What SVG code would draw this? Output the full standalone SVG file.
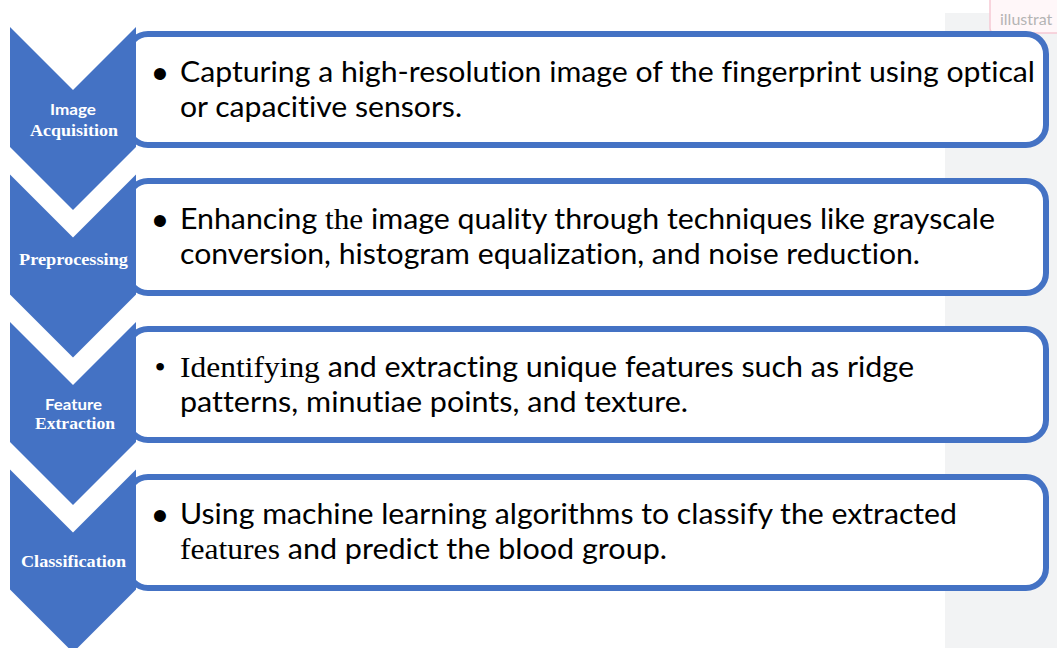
<svg xmlns="http://www.w3.org/2000/svg" width="1057" height="648" viewBox="0 0 1057 648">
<style>
.chev{fill:#4472c4}
.box{fill:#fff;stroke:#4472c4;stroke-width:6}
.lbl-s{font-family:"Liberation Serif",serif;font-weight:bold;font-size:17px;fill:#fff;text-anchor:middle}
.lbl-a{font-family:Lato,"Liberation Sans",sans-serif;font-weight:bold;font-size:16px;fill:#fff;text-anchor:middle}
.txt{font-family:Lato,"Liberation Sans",sans-serif;font-size:29px;fill:#000;font-variant-ligatures:none}
.ser{font-family:"Liberation Serif",serif;font-size:30px}
.bul{font-family:"Liberation Sans",sans-serif;font-size:44px;fill:#000;text-anchor:middle}
.bul2{font-family:"Liberation Serif",serif;font-size:32px;fill:#000;text-anchor:middle}
</style>
<rect x="0" y="0" width="1057" height="648" fill="#fff"/>
<rect x="945" y="13" width="112" height="635" fill="#f2f3f4"/>
<g id="tag">
<path d="M990,-2 V28 Q990,33 995,33 H1060 V-2 Z" fill="#fff7f9" stroke="#f6c9d3" stroke-width="1.5"/>
<text x="1000" y="25" font-family="Lato,'Liberation Sans',sans-serif" font-size="16" fill="#b4b4b4">illustrat</text>
</g>
<g id="connectors"/>
<g id="step1">
<rect class="box" x="128" y="34" width="918" height="111" rx="20"/>
<polygon class="chev" points="10,27 73,90 136,27 136,147 73,210 10,147"/>
<text class="lbl-a" x="73" y="115" textLength="46" lengthAdjust="spacingAndGlyphs">Image</text>
<text class="lbl-s" x="74" y="136" textLength="88" lengthAdjust="spacingAndGlyphs">Acquisition</text>
<text class="bul" x="160" y="89">•</text>
<text class="txt" x="180" y="82" textLength="855" lengthAdjust="spacingAndGlyphs">Capturing a high-resolution image of the fingerprint using optical</text>
<text class="txt" x="180" y="117" textLength="282" lengthAdjust="spacingAndGlyphs">or capacitive sensors.</text>
</g>
<g id="step2">
<rect class="box" x="128" y="181" width="918" height="112" rx="20"/>
<polygon class="chev" points="10,174.5 73,237.5 136,174.5 136,294.5 73,357.5 10,294.5"/>
<text class="lbl-s" x="73.5" y="265" textLength="109" lengthAdjust="spacingAndGlyphs">Preprocessing</text>
<text class="bul" x="160" y="236">•</text>
<text class="txt" x="180" y="229" textLength="815" lengthAdjust="spacingAndGlyphs">Enhancing <tspan class="ser">the</tspan> image quality through techniques like grayscale</text>
<text class="txt" x="180" y="264" textLength="740" lengthAdjust="spacingAndGlyphs">conversion, histogram equalization, and noise reduction.</text>
</g>
<g id="step3">
<rect class="box" x="128" y="329" width="918" height="111" rx="20"/>
<polygon class="chev" points="10,322 73,385 136,322 136,442 73,505 10,442"/>
<text class="lbl-a" x="73.5" y="410" textLength="57" lengthAdjust="spacingAndGlyphs">Feature</text>
<text class="lbl-s" x="75" y="429" textLength="80" lengthAdjust="spacingAndGlyphs">Extraction</text>
<text class="bul2" x="160" y="378">•</text>
<text class="txt" x="180" y="377" textLength="734" lengthAdjust="spacingAndGlyphs"><tspan class="ser">Identifying</tspan> and extracting unique features such as ridge</text>
<text class="txt" x="180" y="412" textLength="508" lengthAdjust="spacingAndGlyphs">patterns, minutiae points, and texture.</text>
</g>
<g id="step4">
<rect class="box" x="128" y="477" width="918" height="111" rx="20"/>
<polygon class="chev" points="10,469.5 73,532.5 136,469.5 136,589.5 73,652.5 10,589.5"/>
<text class="lbl-s" x="73.5" y="567" textLength="105" lengthAdjust="spacingAndGlyphs">Classification</text>
<text class="bul" x="160" y="531">•</text>
<text class="txt" x="180" y="524" textLength="777" lengthAdjust="spacingAndGlyphs">Using machine learning algorithms to classify the extracted</text>
<text class="txt" x="180" y="559" textLength="487" lengthAdjust="spacingAndGlyphs"><tspan class="ser">features</tspan> and predict the blood group.</text>
</g>
</svg>
